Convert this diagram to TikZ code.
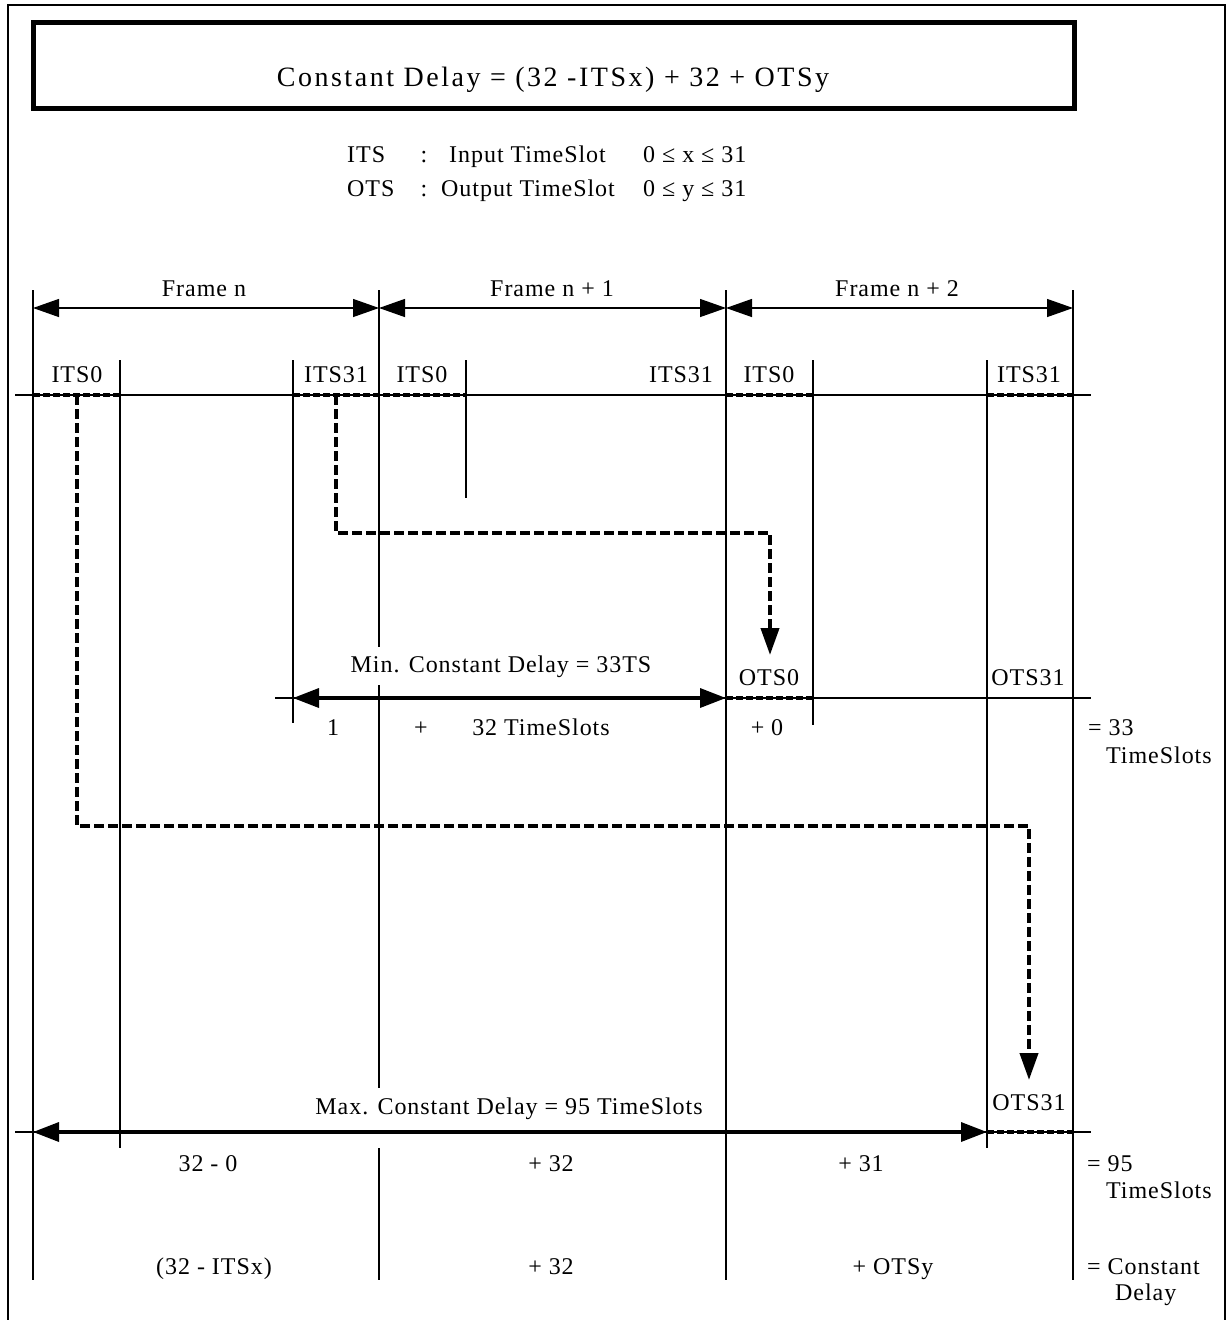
\documentclass[tikz,border=0pt]{standalone}
\usepackage{fontspec}
\setmainfont{Liberation Serif}
\usetikzlibrary{arrows.meta}
\newcommand\lblfont{\fontsize{24}{28}\selectfont\addfontfeatures{LetterSpace=4}}
\newcommand\titlefont{\fontsize{28}{33}\selectfont\addfontfeatures{LetterSpace=9}}
\tikzset{
  rule/.style={line width=1.3pt},
  slotdash/.style={line width=4pt, dash pattern=on 7pt off 3pt},
  route/.style={line width=4pt, dash pattern=on 10pt off 4pt,
    -{Triangle[length=27pt,width=18pt]}},
  framespan/.style={line width=1.3pt,
    {Triangle[length=26pt,width=18pt]}-{Triangle[length=26pt,width=18pt]}},
  delayspan/.style={line width=3.5pt,
    {Triangle[length=26pt,width=19pt]}-{Triangle[length=26pt,width=19pt]}},
}
\begin{document}
\begin{tikzpicture}[x=1pt,y=-1pt,every node/.style={font=\lblfont,inner sep=0pt}]
  \useasboundingbox (0,0) rectangle (1231,1320);
  % frame borders and time levels
  \def\Fa{33}\def\Fb{379}\def\Fc{726}\def\Fd{1073}
  \def\Lin{395}\def\Lmin{698}\def\Lmax{1132}
  % Draw outer frame and formula box
  \draw[line width=2pt] (8,1320) -- (8,5) -- (1225,5) -- (1225,1320);
  \draw[line width=5pt] (33,22) rectangle (1074,108);
  \node[font=\titlefont,anchor=base] (formula) at (553,86)
    {Constant Delay = (32 -ITSx) + 32 + OTSy};
  % Legend
  \node[anchor=base west] (its) at (347,162) {ITS};
  \node[anchor=base] (itscolon) at (424,162) {:};
  \node[anchor=base west] (itsname) at (449,162) {Input TimeSlot};
  \node[anchor=base west] (itsrange) at (643,162) {0 ≤ x ≤ 31};
  \node[anchor=base west] (ots) at (347,196) {OTS};
  \node[anchor=base] (otscolon) at (424,196) {:};
  \node[anchor=base west] (otsname) at (441,196) {Output TimeSlot};
  \node[anchor=base west] (otsrange) at (643,196) {0 ≤ y ≤ 31};
  % Frames
  \draw[rule] (\Fa,290) -- (\Fa,1280);
  \draw[rule] (\Fb,290) -- (\Fb,647) (\Fb,685) -- (\Fb,1088) (\Fb,1148) -- (\Fb,1280);
  \draw[rule] (\Fc,290) -- (\Fc,1280);
  \draw[rule] (\Fd,290) -- (\Fd,1280);
  \draw[framespan] (\Fa,308) -- (\Fb,308);
  \draw[framespan] (\Fb,308) -- (\Fc,308);
  \draw[framespan] (\Fc,308) -- (\Fd,308);
  \node[anchor=base] (frame0) at (204,296) {Frame n};
  \node[anchor=base] (frame1) at (552,296) {Frame n + 1};
  \node[anchor=base] (frame2) at (897,296) {Frame n + 2};
  % Slot borders
  \draw[rule] (120,360) -- (120,1148);
  \draw[rule] (293,360) -- (293,723);
  \draw[rule] (466,360) -- (466,498);
  \draw[rule] (813,360) -- (813,725);
  \draw[rule] (987,360) -- (987,1148);
  % Time lines
  \draw[rule] (15,\Lin) -- (1091,\Lin);
  \draw[rule] (275,\Lmin) -- (1091,\Lmin);
  \draw[rule] (15,\Lmax) -- (1091,\Lmax);
  \draw[slotdash] (\Fa,\Lin) -- (120,\Lin) (293,\Lin) -- (466,\Lin)
    (\Fc,\Lin) -- (813,\Lin) (987,\Lin) -- (\Fd,\Lin);
  \draw[slotdash] (\Fc,\Lmin) -- (813,\Lmin);
  \draw[slotdash] (987,\Lmax) -- (\Fd,\Lmax);
  \node[anchor=base] (its0a) at (77,382) {ITS0};
  \node[anchor=base] (its31a) at (336,382) {ITS31};
  \node[anchor=base] (its0b) at (422,382) {ITS0};
  \node[anchor=base] (its31b) at (681,382) {ITS31};
  \node[anchor=base] (its0c) at (769,382) {ITS0};
  \node[anchor=base] (its31c) at (1029,382) {ITS31};
  % Routes through the switch
  \draw[route] (336,\Lin) -- (336,533) -- (770,533) -- (770,655);
  \draw[route] (77,\Lin) -- (77,826) -- (1029,826) -- (1029,1080);
  % Minimum delay
  \draw[delayspan] (293,\Lmin) -- (\Fc,\Lmin);
  \node[anchor=base] (mintitle) at (501,672) {Min. Constant Delay = 33TS};
  \node[anchor=base] (ots0) at (769,685) {OTS0};
  \node[anchor=base] (ots31a) at (1028,685) {OTS31};
  \node[anchor=base] (minone) at (333,735) {1};
  \node[anchor=base] (minplus) at (421,735) {+};
  \node[anchor=base] (minframe) at (541,735) {32 TimeSlots};
  \node[anchor=base] (minout) at (767,735) {+ 0};
  \node[anchor=base west] (minsum) at (1088,735) {= 33};
  \node[anchor=base west] (minunit) at (1106,763) {TimeSlots};
  % Maximum delay
  \node[anchor=base] (maxtitle) at (509,1114) {Max. Constant Delay = 95 TimeSlots};
  \draw[delayspan] (\Fa,\Lmax) -- (987,\Lmax);
  \node[anchor=base] (ots31b) at (1029,1110) {OTS31};
  \node[anchor=base] (maxin) at (208,1171) {32 - 0};
  \node[anchor=base] (maxframe) at (551,1171) {+ 32};
  \node[anchor=base] (maxout) at (861,1171) {+ 31};
  \node[anchor=base west] (maxsum) at (1087,1171) {= 95};
  \node[anchor=base west] (maxunit) at (1106,1198) {TimeSlots};
  % General formula
  \node[anchor=base] (genin) at (214,1274) {(32 - ITSx)};
  \node[anchor=base] (genframe) at (551,1274) {+ 32};
  \node[anchor=base] (genout) at (893,1274) {+ OTSy};
  \node[anchor=base west] (gensum) at (1087,1274) {= Constant};
  \node[anchor=base west] (genunit) at (1115,1300) {Delay};
\end{tikzpicture}
\end{document}
